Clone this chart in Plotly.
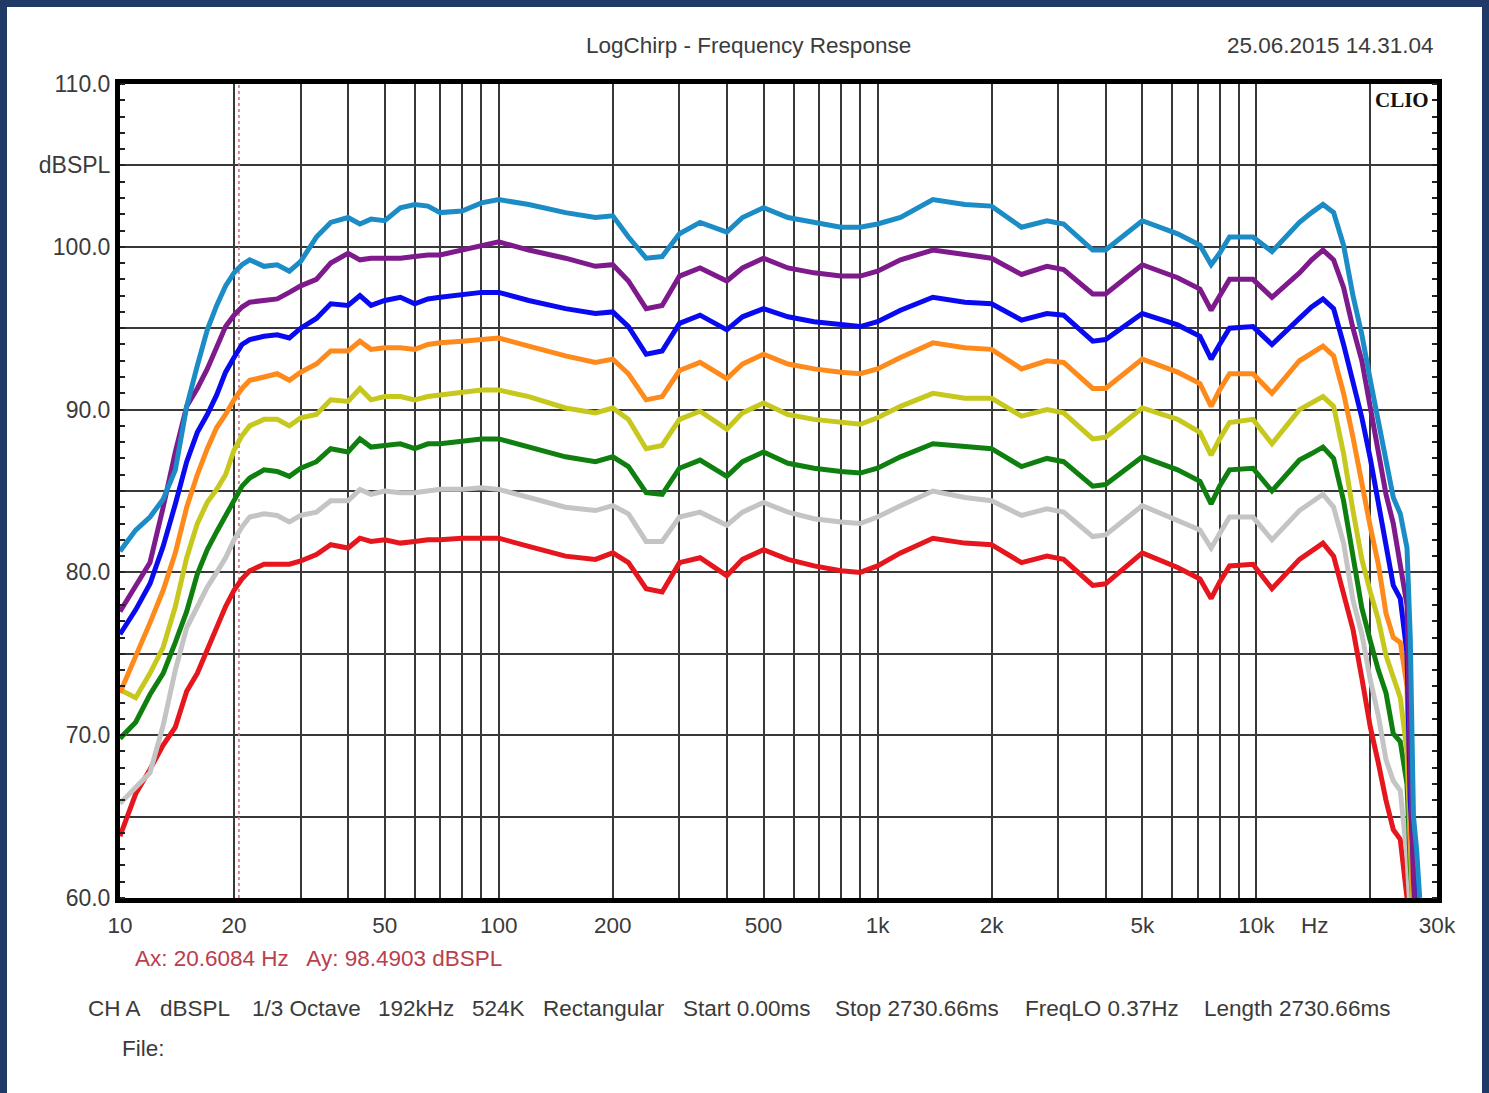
import math
import plotly.graph_objects as go

# Frequency points (Hz) shared by all measurement curves
freq_hz = [10, 11, 12, 13, 14, 15, 16, 17, 18, 19,
           20, 21, 22, 24, 26, 28, 30, 33, 36, 40,
           43, 46, 50, 55, 60, 65, 70, 80, 90, 100,
           120, 150, 180, 200, 220, 245, 270, 300, 340, 400,
           440, 500, 580, 680, 800, 900, 1000, 1150, 1400, 1700,
           2000, 2400, 2800, 3100, 3700, 4000, 5000, 6200, 7100, 7600,
           8000, 8500, 9800, 11000, 13000, 14000, 15000, 16000, 17000, 18000,
           19000, 20000, 21000, 22000, 23000, 24000, 25000, 25500, 26000, 26500,
           27000]

# SPL (dB) per drive level, highest first
spl_lightblue = [81.3, 82.6, 83.4, 84.5, 86.3, 90.2, 92.7, 94.9, 96.4, 97.6,
                 98.4, 98.9, 99.2, 98.8, 98.9, 98.5, 99.1, 100.6, 101.5, 101.8,
                 101.4, 101.7, 101.6, 102.4, 102.6, 102.5, 102.1, 102.2, 102.7, 102.9,
                 102.6, 102.1, 101.8, 101.9, 100.6, 99.3, 99.4, 100.8, 101.5, 100.9,
                 101.8, 102.4, 101.8, 101.5, 101.2, 101.2, 101.4, 101.8, 102.9, 102.6,
                 102.5, 101.2, 101.6, 101.4, 99.8, 99.8, 101.6, 100.8, 100.1, 98.9,
                 99.6, 100.6, 100.6, 99.7, 101.5, 102.1, 102.6, 102.1, 100.1, 97.0,
                 94.6, 91.8, 89.3, 86.8, 84.6, 83.6, 81.5, 76.0, 65.0, 63.0,
                 60.0]
spl_purple = [77.6, 79.2, 80.6, 84.0, 87.4, 90.2, 91.3, 92.5, 93.8, 95.1,
              95.8, 96.3, 96.6, 96.7, 96.8, 97.2, 97.6, 98.0, 99.0, 99.6,
              99.2, 99.3, 99.3, 99.3, 99.4, 99.5, 99.5, 99.8, 100.1, 100.3,
              99.8, 99.3, 98.8, 98.9, 97.9, 96.2, 96.4, 98.2, 98.7, 97.9,
              98.7, 99.3, 98.7, 98.4, 98.2, 98.2, 98.5, 99.2, 99.8, 99.5,
              99.3, 98.3, 98.8, 98.6, 97.1, 97.1, 98.9, 98.1, 97.4, 96.1,
              97.0, 98.0, 98.0, 96.9, 98.4, 99.2, 99.8, 99.2, 97.5, 95.0,
              93.0, 90.2, 87.3, 84.8, 83.0, 80.5, 78.0, 68.0, 61.0, 58.0,
              56.0]
spl_blue = [76.2, 77.7, 79.3, 81.6, 84.2, 86.8, 88.6, 89.7, 90.9, 92.3,
            93.2, 94.0, 94.3, 94.5, 94.6, 94.4, 95.0, 95.6, 96.5, 96.4,
            97.0, 96.4, 96.7, 96.9, 96.5, 96.8, 96.9, 97.1, 97.2, 97.2,
            96.7, 96.2, 95.9, 96.0, 95.1, 93.4, 93.6, 95.3, 95.8, 94.9,
            95.7, 96.2, 95.7, 95.4, 95.2, 95.1, 95.4, 96.1, 96.9, 96.6,
            96.5, 95.5, 95.9, 95.8, 94.2, 94.3, 95.9, 95.2, 94.5, 93.1,
            94.0, 95.0, 95.1, 94.0, 95.6, 96.3, 96.8, 96.2, 94.0, 91.7,
            89.5, 87.0, 84.4, 81.8, 79.2, 78.4, 75.0, 66.0, 61.0, 57.0,
            55.0]
spl_orange = [72.6, 74.8, 76.9, 78.9, 81.2, 84.0, 86.0, 87.6, 88.9, 89.7,
              90.6, 91.3, 91.8, 92.0, 92.2, 91.8, 92.3, 92.8, 93.6, 93.6,
              94.2, 93.7, 93.8, 93.8, 93.7, 94.0, 94.1, 94.2, 94.3, 94.4,
              93.9, 93.3, 92.9, 93.1, 92.2, 90.6, 90.8, 92.4, 92.9, 91.9,
              92.8, 93.4, 92.8, 92.5, 92.3, 92.2, 92.5, 93.2, 94.1, 93.8,
              93.7, 92.5, 93.0, 92.9, 91.3, 91.3, 93.1, 92.3, 91.6, 90.2,
              91.2, 92.2, 92.2, 91.0, 93.0, 93.5, 93.9, 93.3, 91.0, 88.3,
              85.4, 82.8, 80.5, 77.5, 76.0, 75.7, 73.0, 64.0, 60.0, 56.0,
              55.0]
spl_yellow = [72.8, 72.3, 73.8, 75.4, 77.9, 80.9, 83.0, 84.3, 85.1, 86.0,
              87.5, 88.4, 89.0, 89.4, 89.4, 89.0, 89.5, 89.7, 90.6, 90.5,
              91.3, 90.6, 90.8, 90.8, 90.6, 90.8, 90.9, 91.1, 91.2, 91.2,
              90.8, 90.1, 89.8, 90.1, 89.4, 87.6, 87.8, 89.4, 89.9, 88.8,
              89.8, 90.4, 89.7, 89.4, 89.2, 89.1, 89.5, 90.2, 91.0, 90.7,
              90.7, 89.6, 90.0, 89.8, 88.2, 88.3, 90.1, 89.4, 88.6, 87.2,
              88.2, 89.2, 89.4, 87.9, 90.0, 90.4, 90.8, 90.2, 87.3, 83.8,
              80.8, 78.8, 77.1, 74.9, 73.5, 72.3, 69.0, 62.0, 58.0, 56.0,
              55.0]
spl_green = [69.8, 70.8, 72.5, 73.8, 75.7, 77.6, 79.9, 81.4, 82.5, 83.5,
             84.5, 85.3, 85.8, 86.3, 86.2, 85.9, 86.4, 86.8, 87.6, 87.4,
             88.2, 87.7, 87.8, 87.9, 87.6, 87.9, 87.9, 88.1, 88.2, 88.2,
             87.7, 87.1, 86.8, 87.1, 86.5, 84.9, 84.8, 86.4, 86.9, 85.9,
             86.8, 87.4, 86.7, 86.4, 86.2, 86.1, 86.4, 87.1, 87.9, 87.7,
             87.6, 86.5, 87.0, 86.8, 85.3, 85.4, 87.1, 86.3, 85.6, 84.2,
             85.3, 86.3, 86.4, 85.0, 86.9, 87.3, 87.7, 87.0, 84.4, 81.0,
             77.8, 75.8, 74.0, 72.6, 70.1, 69.6, 67.0, 62.0, 58.0, 56.0,
             55.0]
spl_gray = [65.8, 66.8, 67.7, 70.6, 74.0, 76.6, 77.9, 79.1, 80.0, 80.9,
            82.0, 82.8, 83.4, 83.6, 83.5, 83.1, 83.5, 83.7, 84.4, 84.4,
            85.1, 84.8, 85.0, 84.9, 84.9, 85.0, 85.1, 85.1, 85.2, 85.1,
            84.6, 84.0, 83.8, 84.1, 83.6, 81.9, 81.9, 83.4, 83.7, 82.9,
            83.7, 84.3, 83.7, 83.3, 83.1, 83.0, 83.4, 84.1, 85.0, 84.6,
            84.4, 83.5, 83.9, 83.7, 82.2, 82.3, 84.1, 83.2, 82.6, 81.5,
            82.4, 83.4, 83.4, 82.0, 83.8, 84.3, 84.8, 84.0, 81.8, 78.3,
            76.2, 73.4, 71.2, 68.5, 67.2, 66.6, 62.5, 59.0, 57.0, 56.0,
            55.0]
spl_red = [63.8, 66.4, 67.9, 69.4, 70.5, 72.7, 73.8, 75.3, 76.7, 77.9,
           78.9, 79.6, 80.1, 80.5, 80.5, 80.5, 80.7, 81.1, 81.7, 81.5,
           82.1, 81.9, 82.0, 81.8, 81.9, 82.0, 82.0, 82.1, 82.1, 82.1,
           81.6, 81.0, 80.8, 81.2, 80.6, 79.0, 78.8, 80.6, 80.9, 79.8,
           80.8, 81.4, 80.8, 80.4, 80.1, 80.0, 80.4, 81.2, 82.1, 81.8,
           81.7, 80.6, 81.0, 80.8, 79.2, 79.3, 81.2, 80.3, 79.6, 78.4,
           79.4, 80.4, 80.5, 79.0, 80.8, 81.3, 81.8, 81.0, 78.8, 76.5,
           73.5, 70.5, 68.3, 66.0, 64.2, 63.6, 60.0, 57.0, 56.0, 55.0,
           55.0]

# Cursor A
cursor_hz = 20.6084
cursor_db = 98.4903

# Axis tick positions and labels
x_tickvals = [10, 20, 30, 40, 50, 60, 70, 80, 90,
              100, 200, 300, 400, 500, 600, 700, 800, 900,
              1000, 2000, 3000, 4000, 5000, 6000, 7000, 8000, 9000,
              10000, 20000, 30000]
x_ticktext = ["10", "20", "", "", "50", "", "", "", "",
              "100", "200", "", "", "500", "", "", "", "",
              "1k", "2k", "", "", "5k", "", "", "", "",
              "10k", "", "30k"]
y_tickvals = [60, 65, 70, 75, 80, 85, 90, 95, 100, 105, 110]
y_ticktext = ["60.0", "", "70.0", "", "80.0", "", "90.0", "", "100.0", "dBSPL", "110.0"]

footer_items = ["CH A", "dBSPL", "1/3 Octave", "192kHz", "524K", "Rectangular",
                "Start 0.00ms", "Stop 2730.66ms", "FreqLO 0.37Hz", "Length 2730.66ms"]
footer_px = [86, 158, 250, 376, 470, 541, 681, 833, 1023, 1202]

# Curves are drawn bottom-up so the loudest trace ends on top
curves = [
    (spl_red, "#e5161d"),
    (spl_gray, "#c4c4c4"),
    (spl_green, "#0f800f"),
    (spl_yellow, "#c6c81e"),
    (spl_orange, "#ff8a1c"),
    (spl_blue, "#0a0af0"),
    (spl_purple, "#7e1a8c"),
    (spl_lightblue, "#1c8cc6"),
]

W, H = 1489, 1093
ML, MR, MT, MB = 120, 52, 84, 195
PW, PH = W - ML - MR, H - MT - MB


def px_x(x):
    return (x - ML) / PW


def px_y(y):
    return (H - MB - y) / PH


FONT = "Liberation Sans, Arial, sans-serif"
TXT = "#3b3b3b"
FS = 22.5

fig = go.Figure()

fig.add_trace(go.Scatter(
    x=[cursor_hz, cursor_hz], y=[60, 110], mode="lines",
    line=dict(color="#d9707e", width=1.6, dash="dot"),
    hoverinfo="skip", showlegend=False))

for values, color in curves:
    fig.add_trace(go.Scatter(
        x=freq_hz, y=values, mode="lines",
        line=dict(color=color, width=5),
        showlegend=False))

annotations = [
    dict(text="LogChirp - Frequency Response", x=px_x(748), y=px_y(46),
         xanchor="center", yanchor="middle", font=dict(size=FS, color=TXT)),
    dict(text="25.06.2015 14.31.04", x=px_x(1435), y=px_y(46),
         xanchor="right", yanchor="middle", font=dict(size=FS, color=TXT)),
    dict(text="<b>CLIO</b>", x=px_x(1431), y=px_y(100),
         xanchor="right", yanchor="middle",
         font=dict(size=21, color="#111111", family="Liberation Serif, DejaVu Serif, serif")),
    dict(text="Hz", x=px_x(1315), y=px_y(925),
         xanchor="center", yanchor="middle", font=dict(size=FS, color=TXT)),
    dict(text=f"Ax: {cursor_hz:.4f} Hz   Ay: {cursor_db:.4f} dBSPL", x=px_x(133), y=px_y(958),
         xanchor="left", yanchor="middle", font=dict(size=FS, color="#b8404e")),
    dict(text="File:", x=px_x(120), y=px_y(1048),
         xanchor="left", yanchor="middle", font=dict(size=FS, color=TXT)),
]
for label, xp in zip(footer_items, footer_px):
    annotations.append(dict(text=label, x=px_x(xp), y=px_y(1009),
                            xanchor="left", yanchor="middle",
                            font=dict(size=FS, color=TXT)))
for a in annotations:
    a.update(xref="paper", yref="paper", showarrow=False)

shapes = [
    # white sheet inside the dark frame
    dict(type="rect", xref="paper", yref="paper", layer="below",
         x0=px_x(7), x1=px_x(1482), y0=px_y(H + 5), y1=px_y(7),
         fillcolor="white", line=dict(width=0)),
]

fig.update_layout(
    width=W, height=H,
    margin=dict(l=ML, r=MR, t=MT, b=MB, pad=0),
    paper_bgcolor="#203a68",
    plot_bgcolor="white",
    font=dict(family=FONT, size=FS, color=TXT),
    annotations=annotations,
    shapes=shapes,
    showlegend=False,
)

fig.update_xaxes(
    type="log", range=[1, math.log10(30000)],
    tickvals=x_tickvals, ticktext=x_ticktext,
    showgrid=True, gridcolor="#383838", gridwidth=1.5,
    showline=True, linecolor="black", linewidth=5, mirror=True,
    ticks="", ticklabelstandoff=3, zeroline=False,
    tickfont=dict(size=FS, color=TXT),
)
fig.update_yaxes(
    range=[60, 110],
    tickvals=y_tickvals, ticktext=y_ticktext,
    showgrid=True, gridcolor="#383838", gridwidth=1.5,
    showline=True, linecolor="black", linewidth=5, mirror="allticks",
    ticks="", ticklabelstandoff=0, zeroline=False,
    minor=dict(dtick=1, ticks="inside", ticklen=5, tickwidth=2, tickcolor="#222222", showgrid=False),
    tickfont=dict(size=23, color=TXT),
)

fig.write_html("out.html")
